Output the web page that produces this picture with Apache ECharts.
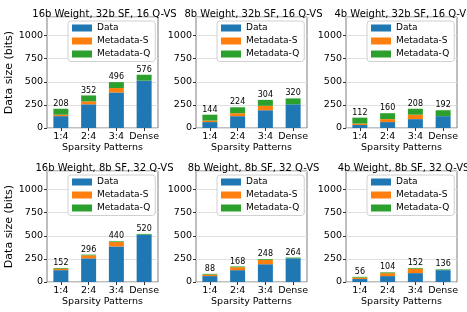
<!DOCTYPE html>
<html>
<head>
<meta charset="utf-8">
<script src="https://cdn.jsdelivr.net/npm/echarts@6/dist/echarts.min.js"></script>
<style>html,body{margin:0;padding:0;background:#fff}#c{width:467px;height:312px}</style>
</head>
<body>
<div id="c"></div>
<script>
const categories = ['1:4', '2:4', '3:4', 'Dense'];
const panelTitles = [
  '16b Weight, 32b SF, 16 Q-VS',
  '8b Weight, 32b SF, 16 Q-VS',
  '4b Weight, 32b SF, 16 Q-VS',
  '16b Weight, 8b SF, 32 Q-VS',
  '8b Weight, 8b SF, 32 Q-VS',
  '4b Weight, 8b SF, 32 Q-VS'
];
const dataBits = [
  [128, 256, 384, 512],
  [64, 128, 192, 256],
  [32, 64, 96, 128],
  [128, 256, 384, 512],
  [64, 128, 192, 256],
  [32, 64, 96, 128]
];
const metaS = [
  [16, 32, 48, 0],
  [16, 32, 48, 0],
  [16, 32, 48, 0],
  [16, 32, 48, 0],
  [16, 32, 48, 0],
  [16, 32, 48, 0]
];
const metaQ = [
  [64, 64, 64, 64],
  [64, 64, 64, 64],
  [64, 64, 64, 64],
  [8, 8, 8, 8],
  [8, 8, 8, 8],
  [8, 8, 8, 8]
];
const totalLabels = [
  [208, 352, 496, 576],
  [144, 224, 304, 320],
  [112, 160, 208, 192],
  [152, 296, 440, 520],
  [88, 168, 248, 264],
  [56, 104, 152, 136]
];
const yTicks = [0, 250, 500, 750, 1000];
const seriesNames = ['Data', 'Metadata-S', 'Metadata-Q'];
const colors = ['#1f77b4', '#ff7f0e', '#2ca02c'];

const FONT = 'DejaVu Sans';
const lefts = [47, 196, 346];
const tops = [17, 171];
const W = 111, H = 111;

const grids = [], xAxes = [], yAxes = [], series = [], titles = [], legends = [];
for (let p = 0; p < 6; p++) {
  const col = p % 3, row = Math.floor(p / 3);
  const l = lefts[col], t = tops[row];
  grids.push({left: l, top: t, width: W, height: H, show: true, borderColor: '#7f7f7f', borderWidth: 1, backgroundColor: 'transparent'});
  xAxes.push({
    type: 'category', gridIndex: p, data: categories,
    axisLine: {show: false},
    axisTick: {show: true, alignWithLabel: true, length: 3, lineStyle: {color: '#333'}},
    axisLabel: {color: '#000', fontFamily: FONT, fontSize: 9.5, margin: 4, interval: 0},
    name: 'Sparsity Patterns', nameLocation: 'middle', nameGap: 15,
    nameTextStyle: {color: '#000', fontFamily: FONT, fontSize: 9.5}
  });
  yAxes.push({
    type: 'value', gridIndex: p, min: 0, max: 1200, interval: 250,
    axisLine: {show: false},
    axisTick: {show: true, length: 3, lineStyle: {color: '#333'}},
    axisLabel: {color: '#000', fontFamily: FONT, fontSize: 9.5, margin: 4, showMaxLabel: false,
      formatter: v => (yTicks.indexOf(v) >= 0 ? String(v) : '')},
    splitLine: {show: true, lineStyle: {color: '#e0e0e0', width: 1}},
    name: col === 0 ? 'Data size (bits)' : '', nameLocation: 'middle', nameGap: 25,
    nameTextStyle: {color: '#000', fontFamily: FONT, fontSize: 11}
  });
  const segs = [dataBits[p], metaS[p], metaQ[p]];
  for (let s = 0; s < 3; s++) {
    const ser = {
      type: 'bar', name: seriesNames[s], xAxisIndex: p, yAxisIndex: p,
      stack: 'st' + p, data: segs[s], barWidth: '54%',
      itemStyle: {color: colors[s]}, animation: false
    };
    if (s === 2) {
      const tl = totalLabels[p];
      ser.label = {show: true, position: 'top', distance: 1, color: '#000', fontFamily: FONT, fontSize: 8,
        formatter: prm => String(tl[prm.dataIndex])};
    }
    series.push(ser);
  }
  titles.push({
    text: panelTitles[p], left: l + W / 2 - 3, top: row === 0 ? 4 : 158, textAlign: 'center',
    textStyle: {fontFamily: FONT, fontSize: 10, fontWeight: 'normal', color: '#000'}
  });
  legends.push({
    data: seriesNames, orient: 'vertical', left: l + 21, top: t + 4,
    padding: [2.5, 5, 3, 4], itemGap: 4, itemWidth: 20, itemHeight: 7,
    borderColor: '#d0d0d0', borderWidth: 1, borderRadius: 3, backgroundColor: 'rgba(255,255,255,0.85)',
    icon: 'rect',
    textStyle: {fontFamily: FONT, fontSize: 9, color: '#000', lineHeight: 8}
  });
}

const chart = echarts.init(document.getElementById('c'), null, {renderer: 'canvas'});
chart.setOption({
  animation: false,
  color: colors,
  title: titles,
  legend: legends,
  grid: grids,
  xAxis: xAxes,
  yAxis: yAxes,
  series: series
});
</script>
</body>
</html>
